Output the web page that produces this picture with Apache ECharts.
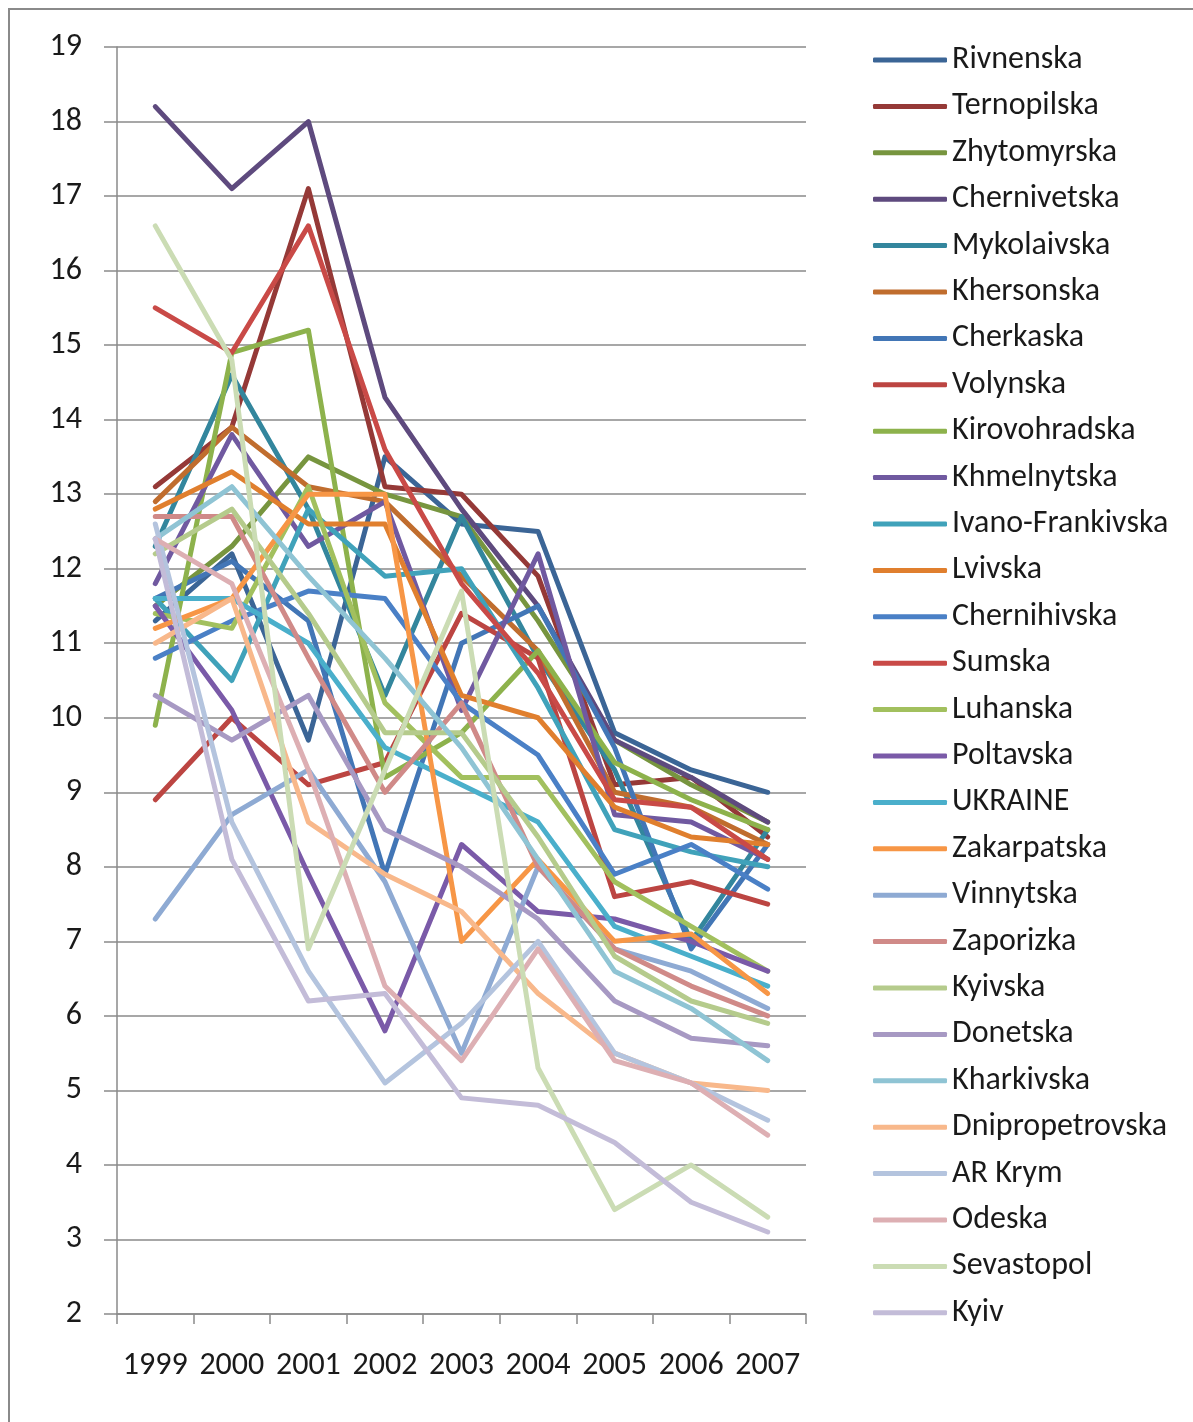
<!DOCTYPE html>
<html>
<head>
<meta charset="utf-8">
<script src="https://cdn.jsdelivr.net/npm/echarts@6/dist/echarts.min.js"></script>
<style>
  html, body { margin: 0; padding: 0; background: #fff; }
  #main { width: 1193px; height: 1422px; }
</style>
</head>
<body>
<div id="main"></div>
<script>
// years on the category axis
var years = ['1999', '2000', '2001', '2002', '2003', '2004', '2005', '2006', '2007'];
var yTicks = { min: 2, max: 19, step: 1 };

// values, one array per region
var rivnenska       = [11.3, 12.2, 9.7, 13.5, 12.6, 12.5, 9.8, 9.3, 9.0];
var ternopilska     = [13.1, 13.9, 17.1, 13.1, 13.0, 11.9, 9.1, 9.2, 8.4];
var zhytomyrska     = [11.5, 12.3, 13.5, 13.0, 12.7, 11.3, 9.7, 9.1, 8.6];
var chernivetska    = [18.2, 17.1, 18.0, 14.3, 12.8, 11.5, 9.7, 9.2, 8.6];
var mykolaivska     = [12.3, 14.6, 12.8, 10.3, 12.7, 10.8, 9.3, 7.0, 8.5];
var khersonska      = [12.9, 13.9, 13.1, 12.9, 11.9, 10.9, 9.0, 8.8, 8.3];
var cherkaska       = [11.6, 12.1, 11.3, 7.9, 11.0, 11.5, 9.6, 6.9, 8.3];
var volynska        = [8.9, 10.0, 9.1, 9.4, 11.4, 10.8, 7.6, 7.8, 7.5];
var kirovohradska   = [9.9, 14.9, 15.2, 9.2, 9.8, 10.9, 9.4, 8.9, 8.5];
var khmelnytska     = [11.8, 13.8, 12.3, 12.9, 10.1, 12.2, 8.7, 8.6, 8.1];
var ivanoFrankivska = [11.6, 10.5, 12.8, 11.9, 12.0, 10.4, 8.5, 8.2, 8.0];
var lvivska         = [12.8, 13.3, 12.6, 12.6, 10.3, 10.0, 8.8, 8.4, 8.3];
var chernihivska    = [10.8, 11.3, 11.7, 11.6, 10.2, 9.5, 7.9, 8.3, 7.7];
var sumska          = [15.5, 14.9, 16.6, 13.6, 11.8, 10.6, 8.9, 8.8, 8.1];
var luhanska        = [11.4, 11.2, 13.1, 10.2, 9.2, 9.2, 7.8, 7.2, 6.6];
var poltavska       = [11.5, 10.1, 7.9, 5.8, 8.3, 7.4, 7.3, 7.0, 6.6];
var ukraine         = [11.6, 11.6, 11.0, 9.6, 9.1, 8.6, 7.2, 6.8, 6.4];
var zakarpatska     = [11.2, 11.6, 13.0, 13.0, 7.0, 8.1, 7.0, 7.1, 6.3];
var vinnytska       = [7.3, 8.7, 9.3, 7.8, 5.5, 8.0, 6.9, 6.6, 6.1];
var zaporizka       = [12.7, 12.7, 10.8, 9.0, 10.2, 8.0, 6.9, 6.4, 6.0];
var kyivska         = [12.2, 12.8, 11.4, 9.8, 9.8, 8.4, 6.8, 6.2, 5.9];
var donetska        = [10.3, 9.7, 10.3, 8.5, 8.0, 7.3, 6.2, 5.7, 5.6];
var kharkivska      = [12.4, 13.1, 11.9, 10.8, 9.6, 8.1, 6.6, 6.1, 5.4];
var dnipropetrovska = [11.0, 11.6, 8.6, 7.9, 7.4, 6.3, 5.5, 5.1, 5.0];
var arKrym          = [12.6, 8.6, 6.6, 5.1, 5.9, 7.0, 5.5, 5.1, 4.6];
var odeska          = [12.4, 11.8, 9.3, 6.4, 5.4, 6.9, 5.4, 5.1, 4.4];
var sevastopol      = [16.6, 14.8, 6.9, 9.3, 11.7, 5.3, 3.4, 4.0, 3.3];
var kyiv            = [12.4, 8.1, 6.2, 6.3, 4.9, 4.8, 4.3, 3.5, 3.1];

var names = ['Rivnenska', 'Ternopilska', 'Zhytomyrska', 'Chernivetska', 'Mykolaivska', 'Khersonska',
  'Cherkaska', 'Volynska', 'Kirovohradska', 'Khmelnytska', 'Ivano-Frankivska', 'Lvivska',
  'Chernihivska', 'Sumska', 'Luhanska', 'Poltavska', 'UKRAINE', 'Zakarpatska',
  'Vinnytska', 'Zaporizka', 'Kyivska', 'Donetska', 'Kharkivska', 'Dnipropetrovska',
  'AR Krym', 'Odeska', 'Sevastopol', 'Kyiv'];
var values = [rivnenska, ternopilska, zhytomyrska, chernivetska, mykolaivska, khersonska,
  cherkaska, volynska, kirovohradska, khmelnytska, ivanoFrankivska, lvivska,
  chernihivska, sumska, luhanska, poltavska, ukraine, zakarpatska,
  vinnytska, zaporizka, kyivska, donetska, kharkivska, dnipropetrovska,
  arKrym, odeska, sevastopol, kyiv];
var colors = ['#3b6596', '#953937', '#77953f', '#5e4a7e', '#33869d', '#c06d2e',
  '#4276b6', '#bc4542', '#8db24c', '#7059a0', '#40a2ba', '#e07f2e',
  '#4a80c6', '#c94a47', '#a2c05e', '#7a5aa8', '#4aafcb', '#f79646',
  '#8eaad3', '#d08a88', '#b5cb8c', '#a799c3', '#8fc4d4', '#f8b88b',
  '#b4c4de', '#ddafb3', '#cbdcb4', '#c3bcd8'];

var font = 'Carlito, Lato, sans-serif';

var chart = echarts.init(document.getElementById('main'));

var series = names.map(function (n, i) {
  return {
    name: n,
    type: 'line',
    data: values[i],
    showSymbol: false,
    symbol: 'none',
    color: colors[i],
    lineStyle: { width: 5, color: colors[i], cap: 'round', join: 'round' },
    emphasis: { disabled: true }
  };
});

chart.setOption({
  backgroundColor: '#fff',
  animation: false,
  color: colors,
  graphic: [{
    type: 'rect',
    shape: { x: 9, y: 9, width: 1200, height: 1420 },
    style: { fill: 'none', stroke: '#8a8a8a', lineWidth: 2 },
    silent: true
  }],
  grid: { left: 117, right: 387, top: 47, bottom: 108 },
  legend: {
    orient: 'vertical',
    left: 868,
    top: 37,
    icon: 'roundRect',
    itemWidth: 74,
    itemHeight: 5,
    itemGap: 10.4,
    itemTextGap: 4,
    textStyle: { fontFamily: font, fontSize: 32, color: '#1a1a1a', lineHeight: 36 },
    data: names
  },
  xAxis: {
    type: 'category',
    data: years,
    boundaryGap: true,
    axisLine: { lineStyle: { color: '#8a8a8a', width: 1.5 } },
    axisTick: { show: true, length: 10, lineStyle: { color: '#8a8a8a', width: 1.5 } },
    axisLabel: { fontFamily: font, fontSize: 32, color: '#1a1a1a', margin: 36, interval: 0 }
  },
  yAxis: {
    type: 'value',
    min: yTicks.min,
    max: yTicks.max,
    interval: yTicks.step,
    axisLine: { show: true, lineStyle: { color: '#8a8a8a', width: 1.5 } },
    axisTick: { show: true, length: 13, lineStyle: { color: '#8a8a8a', width: 1.5 } },
    splitLine: { lineStyle: { color: '#8a8a8a', width: 1.5 } },
    axisLabel: { fontFamily: font, fontSize: 32, color: '#1a1a1a', margin: 35 }
  },
  series: series
});
</script>
</body>
</html>
